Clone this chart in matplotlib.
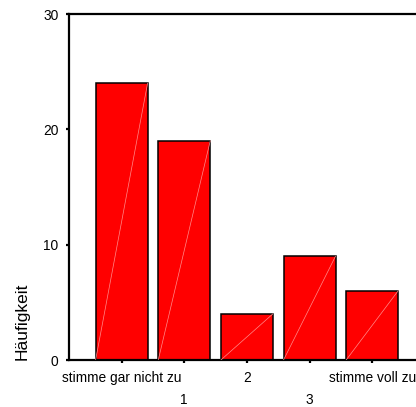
import matplotlib
matplotlib.use("Agg")
import matplotlib.pyplot as plt
import numpy as np

plt.rcParams['font.family'] = ['Liberation Sans', 'DejaVu Sans']

# Daten
categories = ["stimme gar nicht zu", "1", "2", "3", "stimme voll zu"]
counts = [24, 19, 4, 9, 6]
y_ticks = [0, 10, 20, 30]

W, H = 416, 407
fig = plt.figure(figsize=(W / 100, H / 100), dpi=100)
ax = fig.add_axes([69 / W, 47 / H, 1 - 69 / W, 346 / H])

x = np.arange(len(categories))
bar_w = 0.83
ax.bar(x, counts, width=bar_w, color='#ff0000', edgecolor='black', linewidth=1.1, zorder=2)

# feine diagonale Linie in jedem Balken (SPSS-Artefakt)
for xi, c in zip(x, counts):
    ax.plot([xi - bar_w / 2, xi + bar_w / 2], [0, c], color='#ff8c8c', linewidth=0.5, zorder=3)

ax.set_xlim(-0.84, 4.70)
ax.set_ylim(0, 30)

# Achsen
for s in ['left', 'bottom', 'top']:
    ax.spines[s].set_linewidth(1.6)
    ax.spines[s].set_color('black')
ax.spines['right'].set_visible(False)

fs = 9.9
ax.set_yticks(y_ticks)
ax.set_yticklabels([str(v) for v in y_ticks], fontsize=fs)
ax.tick_params(axis='y', direction='out', length=2.5, width=1.6, pad=5)

# versetzte Kategorienbeschriftungen: obere Reihe als Major, untere als Minor
ax.set_xticks(x[::2])
ax.set_xticklabels([categories[i] for i in x[::2]], fontsize=fs)
ax.set_xticks(x[1::2], minor=True)
ax.set_xticklabels([categories[i] for i in x[1::2]], minor=True, fontsize=fs)
ax.tick_params(axis='x', which='major', direction='out', length=2.5, width=1.6, pad=5.5)
ax.tick_params(axis='x', which='minor', direction='out', length=2.5, width=1.6, pad=21)

fig.text(22 / W, 1 - 321 / H, "Häufigkeit", rotation=90, fontsize=12.5,
         ha='center', va='center')

fig.savefig("out.png", dpi=100)
